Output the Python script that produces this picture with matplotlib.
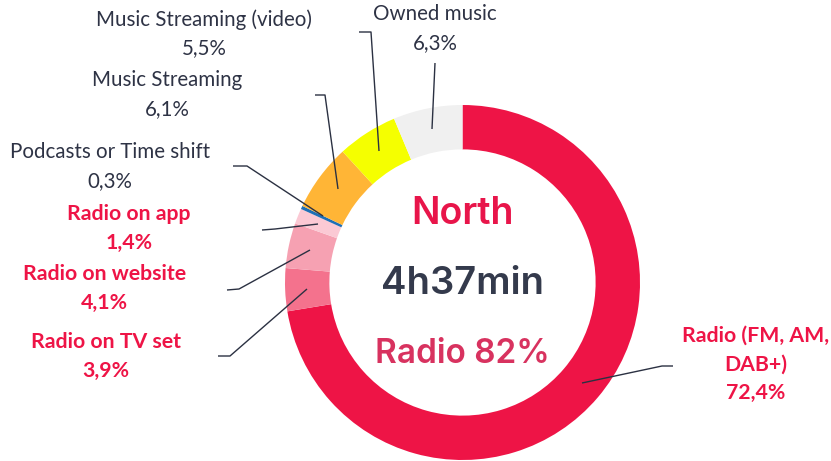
import matplotlib
matplotlib.use("Agg")
import matplotlib.pyplot as plt

categories = ["Radio (FM, AM,\nDAB+)", "Radio on TV set", "Radio on website", "Radio on app",
              "Podcasts or Time shift", "Music Streaming", "Music Streaming (video)", "Owned music"]
values = [72.4, 3.9, 4.1, 1.4, 0.3, 6.1, 5.5, 6.3]
value_labels = ["72,4%", "3,9%", "4,1%", "1,4%", "0,3%", "6,1%", "5,5%", "6,3%"]
colors = ["#EE1446", "#F4728D", "#F6A1B2", "#FBC9D4", "#1F6FB5", "#FFB536", "#F5FF00", "#F0F0F0"]
region_name = "North"
total_time = "4h37min"
radio_share = "Radio 82%"

W, H = 831, 461
fig = plt.figure(figsize=(W / 100, H / 100), dpi=100)
ax = fig.add_axes([0, 0, 1, 1])
ax.set_xlim(0, W)
ax.set_ylim(0, H)
ax.set_aspect("equal")
ax.axis("off")

def Y(y):
    return H - y

cx, cy, R = 462.5, 282.5, 177.5
ax.pie(values, colors=colors, startangle=90, counterclock=False,
       center=(cx, Y(cy)), radius=R, wedgeprops=dict(width=R * 0.25, linewidth=0),
       frame=True)
ax.set_xlim(0, W)
ax.set_ylim(0, H)
ax.axis("off")

line_col = "#2B3142"
leaders = [
    [(582, 383), (662, 366), (673, 366)],   # Radio
    [(307, 289), (230, 356), (218, 356)],   # TV set
    [(310, 250), (239, 289), (227, 290)],   # website
    [(318, 224), (275, 229), (262, 230)],   # app
    [(323, 216), (247, 166), (233, 166)],   # podcasts
    [(338, 189), (325, 95), (315, 95)],     # music streaming
    [(379, 151), (371, 32), (359, 32)],     # video
    [(432, 129), (435, 63)],                # owned
]
for pts in leaders:
    ax.plot([p[0] for p in pts], [Y(p[1]) for p in pts], color=line_col, lw=1.0,
            solid_capstyle="butt")

fam = ["Lato", "DejaVu Sans"]
red = "#EE1446"
dark = "#2E3345"
# (x, y of value line, bold); name lines stacked above at 28 px spacing
pos = [
    (755.5, 393, True),
    (106, 371, True),
    (104.5, 303, True),
    (129, 243, True),
    (110, 181, False),
    (167, 109, False),
    (204, 48, False),
    (435, 43, False),
]
gap = 28.5
for i, (x, yv, bold) in enumerate(pos):
    col = red if bold else dark
    wt = "bold" if bold else "normal"
    fs = 15.3 if bold else 14.8
    lines = categories[i].split("\n") + [value_labels[i]]
    n = len(lines)
    for k, txt in enumerate(lines):
        yy = yv - (n - 1 - k) * gap
        ax.text(x, Y(yy), txt, ha="center", va="center", fontsize=fs,
                color=col, fontweight=wt, family=fam)

cfam = ["Inter", "DejaVu Sans"]
ax.text(cx, Y(214), region_name, ha="center", va="center", fontsize=27,
        fontweight="semibold", color="#E8154A", family=cfam)
ax.text(cx, Y(284), total_time, ha="center", va="center", fontsize=27.5,
        fontweight="semibold", color="#343A4C", family=cfam)
ax.text(cx, Y(354), radio_share, ha="center", va="center", fontsize=24,
        fontweight="semibold", color="#D8325F", family=cfam)

fig.savefig("out.png", dpi=100)
